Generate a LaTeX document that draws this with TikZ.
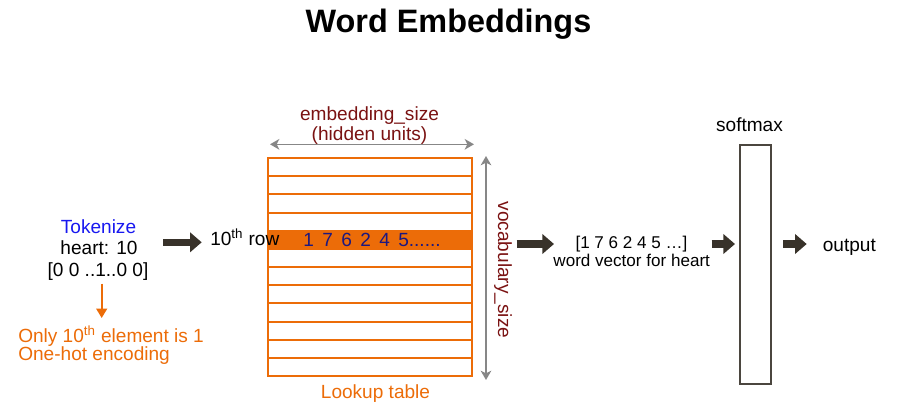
\documentclass[tikz,border=0pt]{standalone}
\usepackage{fontspec}
\setmainfont{Liberation Sans}
\usetikzlibrary{arrows.meta}
\definecolor{lookuporange}{RGB}{236,108,8}
\definecolor{sizered}{RGB}{122,18,18}
\definecolor{tokblue}{RGB}{24,24,240}
\definecolor{numnavy}{RGB}{28,24,128}
\definecolor{blockdark}{RGB}{56,50,42}
\definecolor{boxgray}{RGB}{75,70,63}
\definecolor{dimgray}{RGB}{135,135,135}
\tikzset{
	txt/.style={inner sep=0,font=\fontsize{14.3}{17}\selectfont},
	smalltxt/.style={inner sep=0,font=\fontsize{12.8}{15}\selectfont},
	blockarrow/.style={draw=blockdark,line width=5.5pt,-{Triangle[length=8.75pt,width=14.5pt]}},
	dimarrow/.style={draw=dimgray,line width=1.2pt,{Stealth[length=7pt,width=8pt,inset=2pt]}-{Stealth[length=7pt,width=8pt,inset=2pt]}},
	hotarrow/.style={draw=lookuporange,line width=1.5pt,-{Triangle[length=7pt,width=8pt]}},
	tableline/.style={draw=lookuporange,line width=1.5pt},
}
\begin{document}
\begin{tikzpicture}[x=0.75pt,y=-0.75pt]
	\useasboundingbox (0,0) rectangle (900,412);
	\node[inner sep=0,font=\fontsize{24.3}{28}\selectfont\bfseries,anchor=base] (title) at (448.5,32) {Word Embeddings};
	\node[txt,text=tokblue,anchor=base] (tok) at (98.5,233.3) {Tokenize};
	\node[txt,anchor=base] (heart) at (99,254) {heart: 10};
	\node[txt,anchor=base] (onehot) at (98,276.7) {[0 0 ..1..0 0]};
	\coordinate (hottip) at (101.7,318);
	\draw[hotarrow,shorten <=2pt] (onehot.south -| hottip) -- (hottip);
	\node[txt,text=lookuporange,anchor=base west] (only) at (18,342) {Only 10\textsuperscript{th} element is 1};
	\node[txt,text=lookuporange,anchor=base west] (onehotenc) at (18,360) {One-hot encoding};
	\fill[lookuporange] (268,230.67) rectangle (472,248.83);
	\foreach \i in {1,...,11}
		\draw[tableline] (268,158+\i*18.1667) -- (472,158+\i*18.1667);
	\node[tableline,draw,minimum width=153pt,minimum height=163.5pt,inner sep=0] (table) at (370,267) {};
	\node[txt,anchor=base west] (row) at (210,245) {10\textsuperscript{th} row};
	\node[txt,text=numnavy,anchor=base west] (nums) at (303,246.5) {1\hspace{6.3pt}7\hspace{6.3pt}6\hspace{6.3pt}2\hspace{6.3pt}4\hspace{6.3pt}5......};
	\coordinate (ewest) at (270,144.3);
	\coordinate (eeast) at (474,144.3);
	\draw[dimarrow] (ewest) -- (eeast);
	\node[txt,text=sizered,anchor=base] (embsize) at (369.5,120) {embedding\_size};
	\node[txt,text=sizered,anchor=base] (hidden) at (369.5,140.5) {(hidden units)};
	\coordinate (vtop) at (486,156);
	\coordinate (vbot) at (486,380);
	\draw[dimarrow] (vtop) -- (vbot);
	\node[txt,text=sizered,rotate=-90] (vocab) at (503,270) {vocabulary\_size};
	\node[txt,text=lookuporange,anchor=base] (lookup) at (375.5,398) {Lookup table};
	\coordinate (a1s) at (163.3,242.3);
	\coordinate (a1e) at (201.7,242.3);
	\draw[blockarrow] (a1s) -- (a1e);
	\coordinate (a2s) at (516.7,244);
	\coordinate (a2e) at (554,244);
	\draw[blockarrow] (a2s) -- (a2e);
	\node[smalltxt,anchor=base] (vec) at (631.5,248) {[1 7 6 2 4 5 …]};
	\node[smalltxt,anchor=base] (wordvec) at (631.7,266.7) {word vector for heart};
	\coordinate (a3s) at (711.7,244);
	\coordinate (a3e) at (735,244);
	\draw[blockarrow] (a3s) -- (a3e);
	\node[draw=boxgray,line width=1.5pt,minimum width=23.25pt,minimum height=179.25pt,inner sep=0] (smax) at (755.5,264.5) {};
	\node[txt,anchor=base] (softmax) at (749.5,131.5) {softmax};
	\coordinate (a4s) at (783.3,244);
	\coordinate (a4e) at (806.7,244);
	\draw[blockarrow] (a4s) -- (a4e);
	\node[txt,anchor=base] (output) at (849.3,251.5) {output};
\end{tikzpicture}
\end{document}
